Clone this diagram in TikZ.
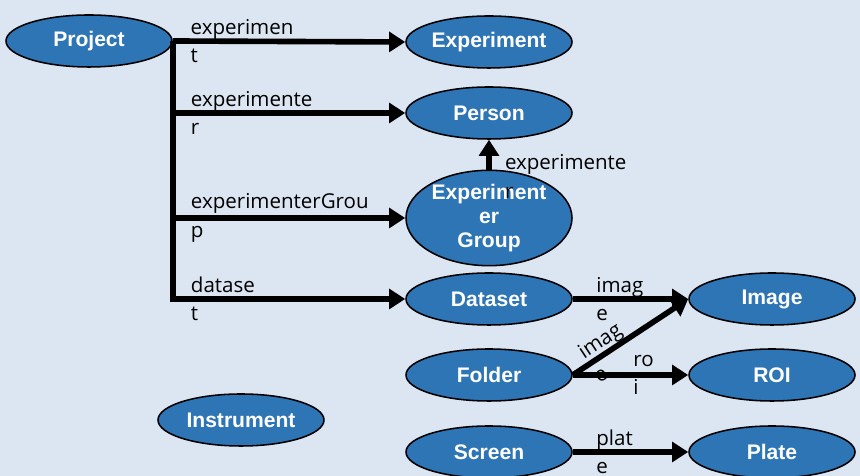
\documentclass[tikz,border=0pt]{standalone}
\usepackage{fontspec}
\setsansfont{Liberation Sans}
\newfontfamily\labelfont{Open Sans}
\usetikzlibrary{shapes.geometric,arrows.meta}
\definecolor{paper}{RGB}{220,230,242}
\definecolor{entityblue}{RGB}{46,117,182}
\begin{document}
\begin{tikzpicture}[>={Triangle[length=11.5pt,width=14pt]},
        entity/.style={ellipse, draw=black, line width=1.1pt, fill=entityblue, text=white,
            font=\sffamily\bfseries\fontsize{15}{17}\selectfont, align=center,
            minimum width=4.15cm, minimum height=1.3cm, inner sep=0pt},
        link/.style={->, line width=4pt},
        lbl/.style={font=\labelfont\fontsize{14.6}{20.2}\selectfont, align=left, anchor=west, inner sep=0pt}]
                \useasboundingbox[fill=paper] (0,0) rectangle (21.5,11.9);
                \node[entity] (project) at (2.225,10.875) {Project};
                \node[entity] (experiment) at (12.225,10.85) {Experiment};
                \node[entity] (person) at (12.225,9.075) {Person};
                \node[entity, minimum height=1.75cm] (expgroup) at (12.225,6.45) {Experiment\\er\\Group};
                \node[entity] (dataset) at (12.225,4.425) {Dataset};
                \node[entity] (folder) at (12.225,2.525) {Folder};
                \node[entity] (screen) at (12.225,0.6) {Screen};
                \node[entity] (instrument) at (6.025,1.4) {Instrument};
                \node[entity] (image) at (19.3,4.425) {Image};
                \node[entity] (roi) at (19.3,2.525) {ROI};
                \node[entity] (plate) at (19.3,0.6) {Plate};
                \draw[link] (project.east) -- node[lbl, pos=0.065] (lblexperiment) {experimen\\t} (experiment.west);
                \draw[link] (project.east) |- node[lbl, pos=0.533] (lblperson) {experimente\\r} (person.west);
                \draw[link] (project.east) |- node[lbl, pos=0.533] (lblexpgroup) {experimenterGrou\\p} (expgroup.west);
                \draw[link] (project.east) |- node[lbl, pos=0.533] (lbldataset) {datase\\t} (dataset.west);
                \draw[link] (expgroup.north) -- node[lbl, pos=0, xshift=0.33cm, yshift=-0.17cm] (lblmember) {experimente\\r} (person.south);
                \draw[link] (dataset.east) -- node[lbl, pos=0.18] (lbldatasetimage) {imag\\e} (image.west);
                \draw[link] (folder.east) -- node[lbl, sloped, pos=0.11] (lblfolderimage) {imag\\e} (image.west);
                \draw[link] (folder.east) -- node[lbl, pos=0.5] (lblroi) {ro\\i} (roi.west);
                \draw[link] (screen.east) -- node[lbl, pos=0.18] (lblplate) {plat\\e} (plate.west);
        \end{tikzpicture}
\end{document}
